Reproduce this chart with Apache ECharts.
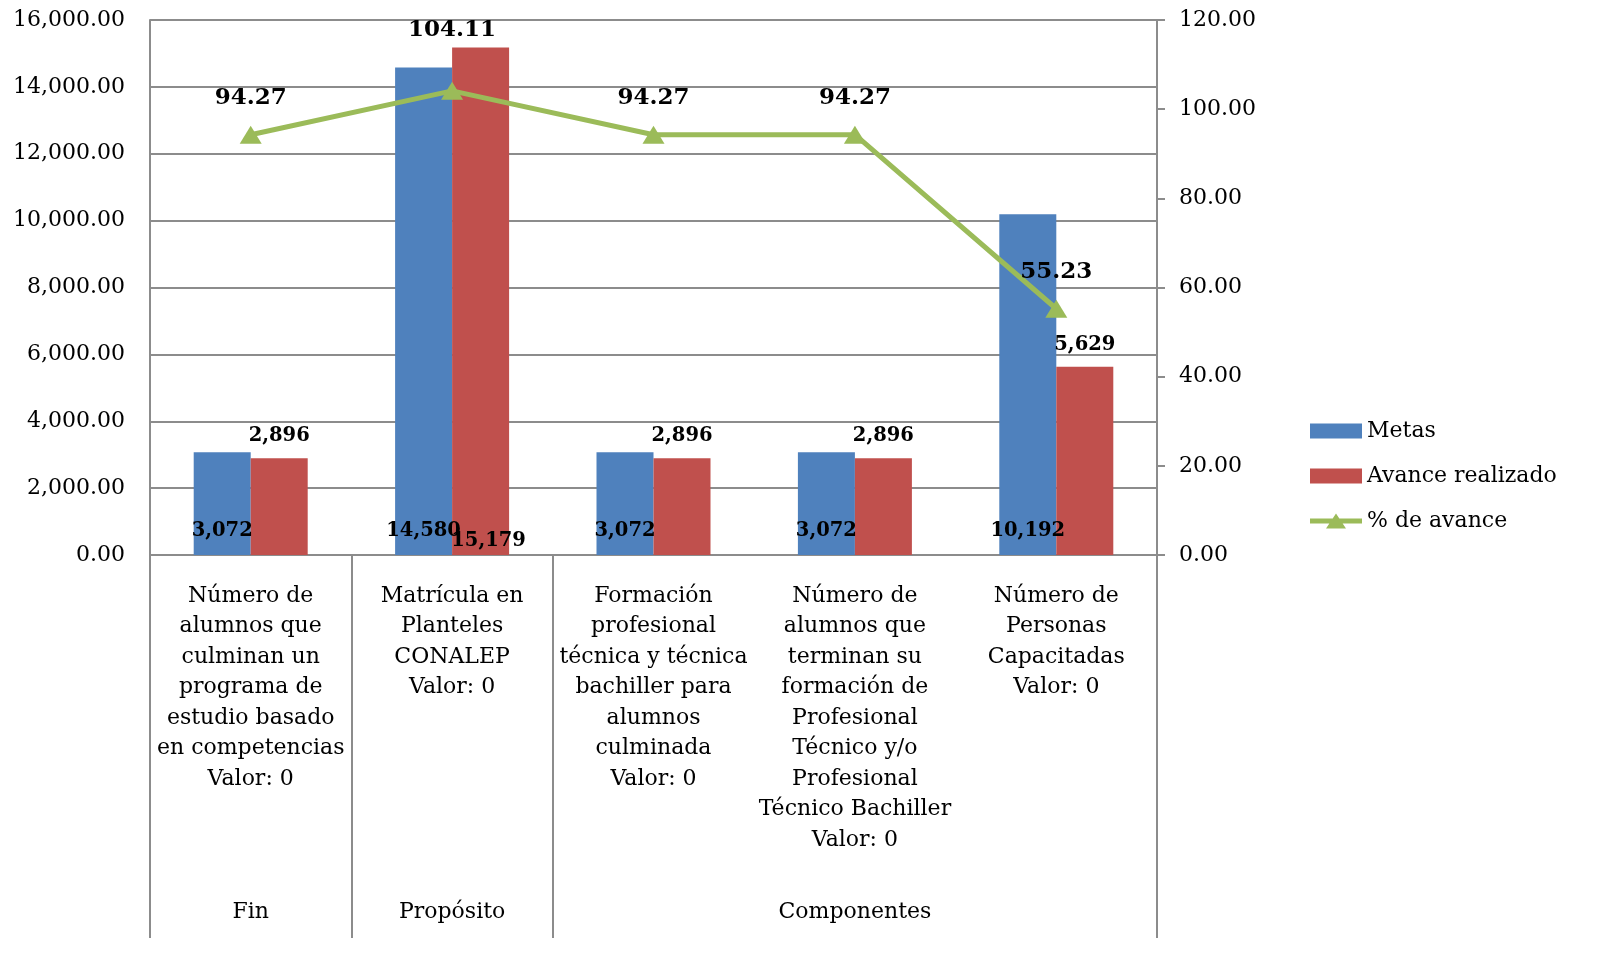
<!DOCTYPE html>
<html>
<head>
<meta charset="utf-8">
<script src="https://cdn.jsdelivr.net/npm/echarts@6/dist/echarts.min.js"></script>
<style>
html,body{margin:0;padding:0;background:#fff;}
#chart{width:1598px;height:956px;}
</style>
</head>
<body>
<div id="chart"></div>
<script>
const categories = [
  "Número de\nalumnos que\nculminan un\nprograma de\nestudio basado\nen competencias\nValor: 0",
  "Matrícula en\nPlanteles\nCONALEP\nValor: 0",
  "Formación\nprofesional\ntécnica y técnica\nbachiller para\nalumnos\nculminada\nValor: 0",
  "Número de\nalumnos que\nterminan su\nformación de\nProfesional\nTécnico y/o\nProfesional\nTécnico Bachiller\nValor: 0",
  "Número de\nPersonas\nCapacitadas\nValor: 0"
];
const groupOfCategory = ["Fin", "Propósito", "Componentes", "Componentes", "Componentes"];
const metas = [3072, 14580, 3072, 3072, 10192];
const avance = [2896, 15179, 2896, 2896, 5629];
const pctAvance = [94.27, 104.11, 94.27, 94.27, 55.23];
const leftTicks = [0, 2000, 4000, 6000, 8000, 10000, 12000, 14000, 16000];
const rightTicks = [0, 20, 40, 60, 80, 100, 120];

const SERIF = '"DejaVu Serif", serif';
const GRAY = '#8c8c8c';

function fmtInt(v) {
  return String(Math.round(v)).replace(/\B(?=(\d{3})+(?!\d))/g, ',');
}
function fmt2(v) {
  const s = Number(v).toFixed(2).split('.');
  return s[0].replace(/\B(?=(\d{3})+(?!\d))/g, ',') + '.' + s[1];
}

// group label row: name at the middle category of each run
const groupLabels = groupOfCategory.map(() => '');
const groupStarts = [];
for (let i = 0; i < groupOfCategory.length; i++) {
  if (i === 0 || groupOfCategory[i] !== groupOfCategory[i - 1]) groupStarts.push(i);
}
groupStarts.forEach((s, k) => {
  const e = (k + 1 < groupStarts.length ? groupStarts[k + 1] : groupOfCategory.length) - 1;
  groupLabels[Math.floor((s + e) / 2)] = groupOfCategory[s];
});

const avanceData = avance.map((v, i) => {
  if (v > leftTicks[leftTicks.length - 1] * 0.9) {
    return { value: v, label: { position: 'insideBottom', distance: 4, offset: [8, 0] } };
  }
  return v;
});
const pctData = pctAvance.map((v, i) => {
  if (v > 100) return { value: v, label: { distance: 40 } };
  return v;
});

const chart = echarts.init(document.getElementById('chart'));
chart.setOption({
  backgroundColor: '#fff',
  animation: false,
  textStyle: { fontFamily: SERIF },
  grid: { left: 150, right: 441, top: 20, bottom: 401 },
  legend: {
    orient: 'vertical',
    left: 1305,
    top: 415,
    itemWidth: 52,
    itemHeight: 15,
    itemGap: 23,
    textStyle: { fontFamily: SERIF, fontSize: 22, color: '#000' },
    data: [
      { name: 'Metas', icon: 'rect' },
      { name: 'Avance realizado', icon: 'rect' },
      { name: '% de avance', icon: 'path://M0,5 L52,5 L52,10 L0,10 Z M26,0 L36,15 L16,15 Z' }
    ]
  },
  xAxis: [
    {
      type: 'category',
      data: categories,
      position: 'bottom',
      axisLine: { show: true, lineStyle: { color: GRAY, width: 2 } },
      axisTick: {
        show: true,
        length: 383,
        interval: (idx) => groupStarts.indexOf(idx) >= 0,
        lineStyle: { color: GRAY, width: 2 }
      },
      axisLabel: {
        interval: 0,
        margin: 26,
        fontFamily: SERIF,
        fontSize: 22,
        lineHeight: 30.5,
        color: '#000'
      },
      splitLine: { show: false }
    },
    {
      type: 'category',
      data: groupLabels,
      position: 'bottom',
      offset: 333,
      axisLine: { show: false },
      axisTick: { show: false },
      axisLabel: {
        interval: 0,
        margin: 9,
        fontFamily: SERIF,
        fontSize: 22,
        lineHeight: 30.5,
        color: '#000'
      },
      splitLine: { show: false }
    }
  ],
  yAxis: [
    {
      type: 'value',
      min: leftTicks[0],
      max: leftTicks[leftTicks.length - 1],
      interval: leftTicks[1] - leftTicks[0],
      axisLine: { show: true, lineStyle: { color: GRAY, width: 2 } },
      axisTick: { show: false },
      axisLabel: { formatter: fmt2, fontFamily: SERIF, fontSize: 22, color: '#000', margin: 25 },
      splitLine: { show: true, lineStyle: { color: GRAY, width: 2 } }
    },
    {
      type: 'value',
      min: rightTicks[0],
      max: rightTicks[rightTicks.length - 1],
      interval: rightTicks[1] - rightTicks[0],
      position: 'right',
      axisLine: { show: true, lineStyle: { color: GRAY, width: 2 } },
      axisTick: { show: true, length: 8, lineStyle: { color: GRAY, width: 2 } },
      axisLabel: { formatter: fmt2, fontFamily: SERIF, fontSize: 22, color: '#000', margin: 22 },
      splitLine: { show: false }
    }
  ],
  series: [
    {
      name: 'Metas',
      type: 'bar',
      data: metas,
      barWidth: 57,
      barGap: '0%',
      itemStyle: { color: '#4F81BD' },
      label: {
        show: true,
        position: 'insideBottom',
        distance: 14,
        formatter: (p) => fmtInt(p.value),
        fontFamily: SERIF,
        fontWeight: 'bold',
        fontSize: 19.5,
        color: '#000'
      },
      z: 2
    },
    {
      name: 'Avance realizado',
      type: 'bar',
      data: avanceData,
      barWidth: 57,
      barGap: '0%',
      itemStyle: { color: '#C0504D' },
      label: {
        show: true,
        position: 'top',
        distance: 12,
        formatter: (p) => fmtInt(p.value),
        fontFamily: SERIF,
        fontWeight: 'bold',
        fontSize: 19.5,
        color: '#000'
      },
      z: 2
    },
    {
      name: '% de avance',
      type: 'line',
      yAxisIndex: 1,
      data: pctData,
      symbol: 'triangle',
      symbolSize: [22, 18],
      itemStyle: { color: '#9BBB59' },
      lineStyle: { color: '#9BBB59', width: 5 },
      label: {
        show: true,
        position: 'top',
        distance: 16,
        formatter: (p) => fmt2(p.value),
        fontFamily: SERIF,
        fontWeight: 'bold',
        fontSize: 23,
        color: '#000'
      },
      z: 5
    }
  ]
});
</script>
</body>
</html>
